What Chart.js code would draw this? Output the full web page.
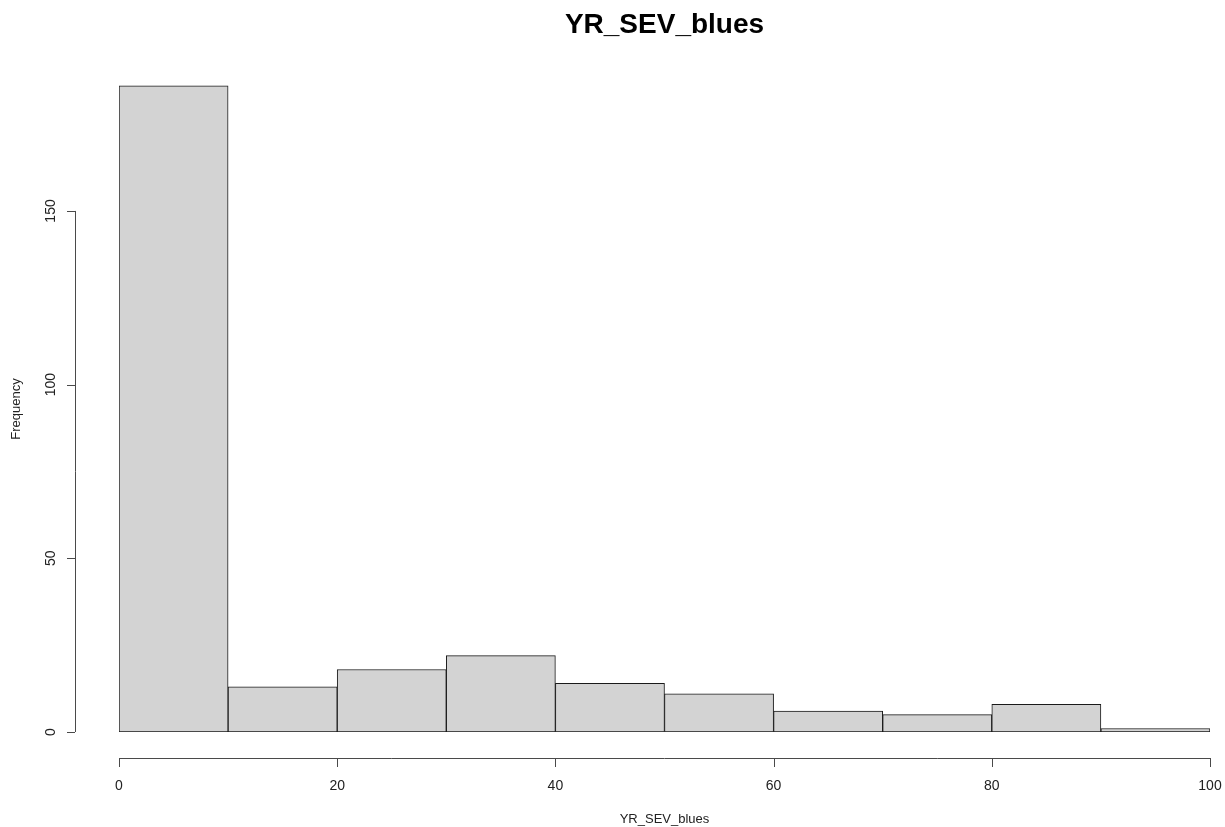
<!DOCTYPE html>
<html>
<head>
<meta charset="utf-8">
<title>YR_SEV_blues</title>
<script src="https://cdn.jsdelivr.net/npm/chart.js@4/dist/chart.umd.min.js"></script>
<style>
  html, body { margin: 0; padding: 0; background: #fff; }
  canvas { display: block; }
</style>
</head>
<body>
<canvas id="hist" width="1225" height="827"></canvas>
<script>
// histogram bins (lower / upper edge) and counts
const binLow  = [0, 10, 20, 30, 40, 50, 60, 70, 80, 90];
const binHigh = [10, 20, 30, 40, 50, 60, 70, 80, 90, 100];
const counts  = [186, 13, 18, 22, 14, 11, 6, 5, 8, 1];

// axis tick labels
const xTicks = [0, 20, 40, 60, 80, 100];
const yTicks = [0, 50, 100, 150];

const titleText = 'YR_SEV_blues';
const xLabel = 'YR_SEV_blues';
const yLabel = 'Frequency';

const points = binLow.map((lo, i) => ({ x: (lo + binHigh[i]) / 2, y: counts[i] }));

// R style axes: offset from the plot, drawn with the chart's own scales
const rAxes = {
  id: 'rAxes',
  afterDraw(chart) {
    const ctx = chart.ctx;
    const xs = chart.scales.x, ys = chart.scales.y;
    const x0 = xs.getPixelForValue(0);
    const y0 = ys.getPixelForValue(0);
    const axisY = y0 + 26;
    const axisX = x0 - 44;

    ctx.save();
    ctx.strokeStyle = '#4a4a4a';
    ctx.lineWidth = 1;
    ctx.fillStyle = '#222';

    // x axis
    ctx.beginPath();
    ctx.moveTo(xs.getPixelForValue(xTicks[0]), axisY + 0.5);
    ctx.lineTo(xs.getPixelForValue(xTicks[xTicks.length - 1]), axisY + 0.5);
    xTicks.forEach(t => {
      const px = Math.round(xs.getPixelForValue(t)) + 0.5;
      ctx.moveTo(px, axisY);
      ctx.lineTo(px, axisY + 9);
    });
    ctx.stroke();
    ctx.font = '14px "Liberation Sans", Arial, sans-serif';
    ctx.textAlign = 'center';
    ctx.textBaseline = 'alphabetic';
    xTicks.forEach(t => ctx.fillText(String(t), xs.getPixelForValue(t), axisY + 32));

    // y axis
    ctx.beginPath();
    ctx.moveTo(axisX + 0.5, ys.getPixelForValue(yTicks[0]));
    ctx.lineTo(axisX + 0.5, ys.getPixelForValue(yTicks[yTicks.length - 1]));
    yTicks.forEach(t => {
      const py = Math.round(ys.getPixelForValue(t)) + 0.5;
      ctx.moveTo(axisX, py);
      ctx.lineTo(axisX - 8, py);
    });
    ctx.stroke();
    yTicks.forEach(t => {
      ctx.save();
      ctx.translate(axisX - 20, ys.getPixelForValue(t));
      ctx.rotate(-Math.PI / 2);
      ctx.fillText(String(t), 0, 0);
      ctx.restore();
    });

    // axis titles
    const midX = (chart.chartArea.left + chart.chartArea.right) / 2;
    ctx.font = '13px "Liberation Sans", Arial, sans-serif';
    ctx.fillText(xLabel, midX, 823);
    ctx.save();
    ctx.translate(20, 409);
    ctx.rotate(-Math.PI / 2);
    ctx.fillText(yLabel, 0, 0);
    ctx.restore();

    // main title
    ctx.fillStyle = '#000';
    ctx.font = 'bold 28px "Liberation Sans", Arial, sans-serif';
    ctx.fillText(titleText, midX, 33);
    ctx.restore();
  }
};

new Chart(document.getElementById('hist'), {
  type: 'bar',
  data: {
    datasets: [{
      label: 'YR_SEV_blues',
      data: points,
      backgroundColor: '#d3d3d3',
      borderColor: '#1a1a1a',
      borderWidth: 1,
      borderSkipped: false,
      barPercentage: 1,
      categoryPercentage: 1
    }]
  },
  options: {
    responsive: false,
    animation: false,
    devicePixelRatio: 1,
    layout: { padding: { left: 119, right: 15, top: 72, bottom: 95 } },
    plugins: {
      legend: { display: false },
      tooltip: { enabled: false },
      title: { display: false }
    },
    scales: {
      x: {
        type: 'linear',
        min: 0,
        max: 100,
        offset: false,
        display: false,
        grid: { offset: false },
        ticks: { stepSize: 20 }
      },
      y: {
        min: 0,
        max: 190,
        display: false
      }
    }
  },
  plugins: [rAxes]
});
</script>
</body>
</html>
